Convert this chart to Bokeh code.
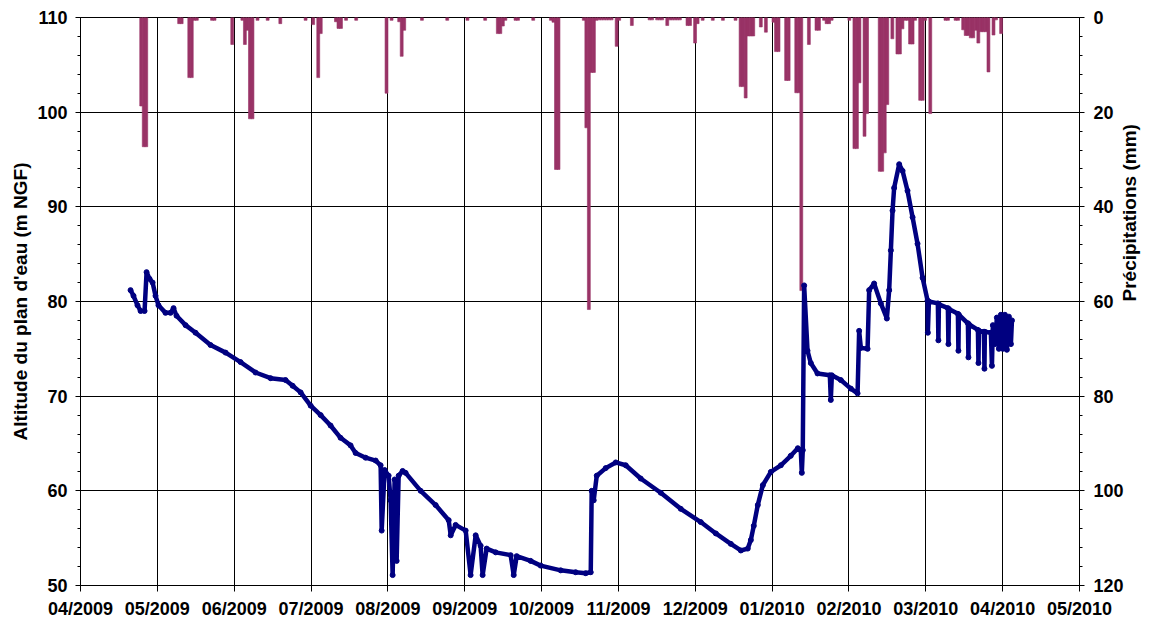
import math
import pandas as pd
from bokeh.plotting import figure
from bokeh.models import Range1d, LinearAxis, FixedTicker, SingleIntervalTicker
from bokeh.embed import file_html
from bokeh.resources import INLINE

# ---------------- data ----------------
month_labels = ["04/2009", "05/2009", "06/2009", "07/2009", "08/2009", "09/2009", "10/2009",
                "11/2009", "12/2009", "01/2010", "02/2010", "03/2010", "04/2010", "05/2010"]

precip_dates = [
    "2009-04-25", "2009-04-26", "2009-04-27", "2009-05-10", "2009-05-11", "2009-05-14", "2009-05-15",
    "2009-05-16", "2009-05-17", "2009-05-23", "2009-05-24", "2009-05-31", "2009-06-04", "2009-06-05",
    "2009-06-06", "2009-06-07", "2009-06-08", "2009-06-10", "2009-06-14", "2009-06-19", "2009-06-29",
    "2009-07-02", "2009-07-04", "2009-07-05", "2009-07-11", "2009-07-12", "2009-07-13", "2009-07-15",
    "2009-07-19", "2009-07-31", "2009-08-02", "2009-08-05", "2009-08-06", "2009-08-07", "2009-08-14",
    "2009-08-24", "2009-09-01", "2009-09-08", "2009-09-13", "2009-09-14", "2009-09-15", "2009-09-16",
    "2009-09-20", "2009-09-21", "2009-09-27", "2009-10-04", "2009-10-05", "2009-10-06", "2009-10-07",
    "2009-10-17", "2009-10-18", "2009-10-19", "2009-10-20", "2009-10-21", "2009-10-22", "2009-10-23",
    "2009-10-24", "2009-10-25", "2009-10-26", "2009-10-27", "2009-10-28", "2009-10-30", "2009-10-31",
    "2009-11-05", "2009-11-12", "2009-11-13", "2009-11-15", "2009-11-16", "2009-11-17", "2009-11-19",
    "2009-11-20", "2009-11-21", "2009-11-22", "2009-11-23", "2009-11-24", "2009-11-27", "2009-11-28",
    "2009-11-30", "2009-12-01", "2009-12-03", "2009-12-07", "2009-12-11", "2009-12-16", "2009-12-18",
    "2009-12-19", "2009-12-20", "2009-12-21", "2009-12-22", "2009-12-23", "2009-12-26", "2009-12-28",
    "2009-12-31", "2010-01-01", "2010-01-02", "2010-01-05", "2010-01-06", "2010-01-09", "2010-01-10",
    "2010-01-11", "2010-01-14", "2010-01-17", "2010-01-18", "2010-01-20", "2010-01-21", "2010-01-22",
    "2010-01-23", "2010-01-30", "2010-02-01", "2010-02-02", "2010-02-03", "2010-02-05", "2010-02-06",
    "2010-02-11", "2010-02-12", "2010-02-13", "2010-02-14", "2010-02-16", "2010-02-18", "2010-02-19",
    "2010-02-20", "2010-02-21", "2010-02-22", "2010-02-23", "2010-02-24", "2010-02-25", "2010-02-27",
    "2010-02-28", "2010-03-01", "2010-03-03", "2010-03-09", "2010-03-10", "2010-03-13", "2010-03-14",
    "2010-03-16", "2010-03-17", "2010-03-18", "2010-03-19", "2010-03-20", "2010-03-21", "2010-03-22",
    "2010-03-23", "2010-03-24", "2010-03-25", "2010-03-26", "2010-03-28", "2010-03-29", "2010-03-31",
]
precip_mm = [
    18.7, 27.3, 27.3, 1.3, 1.3, 12.7, 12.7,
    0.6, 0.6, 0.6, 0.6, 5.7, 0.6, 5.7,
    2.7, 21.4, 21.4, 0.6, 0.6, 1.3, 0.6,
    1.5, 12.7, 3.4, 0.9, 2.3, 2.3, 0.6,
    0.6, 16.0, 0.6, 0.9, 8.2, 2.7, 0.6,
    0.6, 0.6, 0.6, 3.4, 3.4, 1.8, 0.6,
    0.6, 0.6, 0.6, 0.6, 1.0, 32.1, 32.1,
    0.6, 23.3, 61.7, 11.6, 11.6, 0.6, 0.5,
    0.5, 0.5, 0.5, 0.5, 0.5, 6.1, 0.6,
    1.7, 0.5, 0.5, 0.5, 0.5, 0.5, 1.7,
    0.5, 0.5, 0.5, 0.5, 0.5, 1.7, 1.7,
    5.4, 1.3, 0.6, 0.6, 0.6, 0.6, 14.6,
    14.6, 17.0, 3.9, 3.9, 3.9, 2.0, 3.1,
    1.0, 7.2, 7.2, 13.3, 13.3, 15.9, 15.9,
    57.7, 5.7, 2.7, 2.7, 0.6, 1.3, 1.3,
    0.6, 0.6, 27.7, 27.7, 13.8, 25.1, 20.3,
    32.5, 32.5, 28.6, 18.4, 4.5, 7.7, 7.7,
    2.4, 0.6, 0.6, 5.6, 5.6, 0.6, 17.5,
    17.5, 0.6, 20.3, 0.6, 0.6, 0.6, 0.6,
    2.6, 3.8, 3.8, 4.3, 4.3, 2.7, 5.4,
    3.0, 3.0, 3.0, 11.5, 3.7, 0.5, 3.4,
]

level_times = [
    "2009-04-20 19:00", "2009-04-21 23:00", "2009-04-23 13:00", "2009-04-24 18:00", "2009-04-26 08:00",
    "2009-04-27 03:00", "2009-04-28 07:00", "2009-04-29 12:00", "2009-04-30 16:00", "2009-05-01 20:00",
    "2009-05-04 15:00", "2009-05-06 14:00", "2009-05-07 19:00", "2009-05-08 23:00", "2009-05-12 13:00",
    "2009-05-16 12:00", "2009-05-22 10:00", "2009-05-28 09:00", "2009-06-03 07:00", "2009-06-09 05:00",
    "2009-06-15 04:00", "2009-06-21 02:00", "2009-06-23 21:00", "2009-06-27 01:00", "2009-07-01 00:00",
    "2009-07-04 23:00", "2009-07-08 21:00", "2009-07-12 20:00", "2009-07-16 19:00", "2009-07-18 19:00",
    "2009-07-22 18:00", "2009-07-26 17:00", "2009-07-28 16:00", "2009-07-29 02:00", "2009-07-30 06:00",
    "2009-07-31 20:00", "2009-08-01 15:00", "2009-08-02 10:00", "2009-08-03 05:00", "2009-08-04 00:00",
    "2009-08-04 19:00", "2009-08-06 09:00", "2009-08-07 13:00", "2009-08-13 12:00", "2009-08-19 10:00",
    "2009-08-24 14:00", "2009-08-25 09:00", "2009-08-27 08:00", "2009-08-31 07:00", "2009-09-02 06:00",
    "2009-09-04 06:00", "2009-09-06 05:00", "2009-09-07 00:00", "2009-09-08 14:00", "2009-09-12 04:00",
    "2009-09-18 02:00", "2009-09-19 07:00", "2009-09-20 11:00", "2009-09-26 00:00", "2009-09-29 23:00",
    "2009-10-07 21:00", "2009-10-13 19:00", "2009-10-17 18:00", "2009-10-19 18:00", "2009-10-20 03:00",
    "2009-10-20 22:00", "2009-10-22 03:00", "2009-10-25 16:00", "2009-10-29 15:00", "2009-11-02 14:00",
    "2009-11-08 12:00", "2009-11-16 10:00", "2009-11-24 08:00", "2009-12-02 06:00", "2009-12-08 05:00",
    "2009-12-14 03:00", "2009-12-18 02:00", "2009-12-20 20:00", "2009-12-22 01:00", "2009-12-23 05:00",
    "2009-12-24 19:00", "2009-12-26 19:00", "2009-12-29 23:00", "2010-01-02 22:00", "2010-01-06 20:00",
    "2010-01-09 15:00", "2010-01-10 19:00", "2010-01-11 05:00", "2010-01-11 14:00", "2010-01-12 03:00",
    "2010-01-13 11:00", "2010-01-14 18:00", "2010-01-17 10:00", "2010-01-22 07:00", "2010-01-22 16:00",
    "2010-01-23 02:00", "2010-01-26 15:00", "2010-01-30 14:00", "2010-02-02 06:00", "2010-02-02 21:00",
    "2010-02-03 13:00", "2010-02-06 05:00", "2010-02-06 20:00", "2010-02-08 19:00", "2010-02-11 11:00",
    "2010-02-13 20:00", "2010-02-14 18:00", "2010-02-15 10:00", "2010-02-16 02:00", "2010-02-16 17:00",
    "2010-02-18 17:00", "2010-02-20 01:00", "2010-02-22 00:00", "2010-02-24 00:00", "2010-02-25 23:00",
    "2010-02-27 23:00", "2010-03-01 22:00", "2010-03-02 01:00", "2010-03-02 11:00", "2010-03-06 00:00",
    "2010-03-06 05:00", "2010-03-06 10:00", "2010-03-09 23:00", "2010-03-10 04:00", "2010-03-10 09:00",
    "2010-03-13 22:00", "2010-03-14 03:00", "2010-03-14 07:00", "2010-03-17 21:00", "2010-03-18 02:00",
    "2010-03-18 06:00", "2010-03-21 20:00", "2010-03-22 01:00", "2010-03-22 06:00", "2010-03-24 05:00",
    "2010-03-24 10:00", "2010-03-24 14:00", "2010-03-26 23:00", "2010-03-27 09:00", "2010-03-27 18:00",
    "2010-03-28 13:00", "2010-03-29 08:00", "2010-03-30 03:00", "2010-03-30 22:00", "2010-03-31 17:00",
    "2010-04-01 12:00", "2010-04-02 07:00", "2010-04-03 02:00", "2010-04-03 21:00", "2010-04-04 07:00",
]
level_m = [
    81.2, 80.6, 79.6, 79.0, 79.0,
    83.1, 82.4, 82.0, 80.6, 79.6,
    78.8, 78.8, 79.3, 78.5, 77.5,
    76.7, 75.4, 74.6, 73.6, 72.5,
    71.9, 71.7, 71.1, 70.4, 69.0,
    68.0, 66.9, 65.6, 64.8, 64.0,
    63.5, 63.2, 62.7, 55.8, 62.2,
    61.6, 59.0, 51.1, 61.2, 52.6,
    61.6, 62.1, 61.9, 60.0, 58.5,
    56.9, 55.3, 56.4, 55.8, 51.1,
    55.3, 54.2, 51.1, 53.9, 53.5,
    53.2, 51.1, 53.1, 52.6, 52.1,
    51.6, 51.4, 51.3, 51.4, 60.0,
    59.0, 61.6, 62.4, 63.0, 62.7,
    61.3, 59.8, 58.1, 56.7, 55.5,
    54.4, 53.7, 53.9, 54.8, 56.3,
    58.5, 60.6, 62.0, 62.7, 63.7,
    64.5, 64.3, 61.9, 64.3, 81.7,
    74.8, 73.5, 72.4, 72.2, 69.6,
    72.2, 71.7, 70.8, 70.3, 76.9,
    75.1, 75.0, 81.2, 81.9, 79.8,
    78.2, 81.2, 85.4, 89.6, 92.0,
    94.5, 93.8, 91.7, 88.9, 86.1,
    82.5, 80.1, 76.7, 80.0, 79.8,
    75.9, 79.7, 79.3, 75.5, 79.2,
    78.7, 74.8, 78.6, 77.7, 74.1,
    77.6, 77.0, 73.5, 76.9, 76.8,
    72.9, 76.8, 76.7, 73.2, 77.5,
    75.5, 78.3, 75.0, 78.6, 75.0,
    78.6, 74.9, 78.4, 75.5, 78.0,
]

# ---------------- figure ----------------
FONT = "Liberation Sans"
x_start = pd.Timestamp("2009-04-01")
x_end = pd.Timestamp("2010-05-01")
start_ms = x_start.value // 10**6
end_ms = x_end.value // 10**6
n = len(month_labels) - 1
tick_ms = [int(round(start_ms + k * (end_ms - start_ms) / n)) for k in range(n + 1)]

p = figure(frame_width=999, frame_height=568, x_axis_type="datetime",
           x_range=Range1d(start=start_ms, end=end_ms), y_range=Range1d(start=50, end=110),
           output_backend="svg", toolbar_location=None)
p.min_border_left = 80
p.min_border_right = 74
p.min_border_top = 17
p.min_border_bottom = 36
p.outline_line_color = "black"
p.outline_line_alpha = 1
p.background_fill_color = "white"
p.border_fill_color = "white"

p.extra_y_ranges = {"precip": Range1d(start=120, end=0)}

# x axis
xa = p.xaxis[0]
xa.ticker = FixedTicker(ticks=tick_ms)
xa.major_label_overrides = {t: lab for t, lab in zip(tick_ms, month_labels)}
xa.minor_tick_line_color = None

# left axis
ya = p.yaxis[0]
ya.ticker = SingleIntervalTicker(interval=10, num_minor_ticks=5)
ya.axis_label = "Altitude du plan d'eau (m NGF)"

# right axis
ra = LinearAxis(y_range_name="precip", ticker=SingleIntervalTicker(interval=20, num_minor_ticks=5),
                axis_label="Précipitations (mm)")
ra.axis_label_orientation = math.pi / 2
p.add_layout(ra, "right")

for ax in (xa, ya, ra):
    ax.axis_line_color = "black"
    ax.axis_line_width = 1
    ax.major_tick_line_color = "black"
    ax.major_tick_out = 5
    ax.major_tick_in = 0
    ax.minor_tick_out = 3
    ax.minor_tick_in = 0
    ax.major_label_text_font = FONT
    ax.major_label_text_font_style = "bold"
    ax.major_label_text_font_size = "18px"
    ax.major_label_text_color = "black"
    ax.axis_label_text_font = FONT
    ax.axis_label_text_font_style = "bold"
    ax.axis_label_text_font_size = "19px"
    ax.axis_label_text_color = "black"
xa.major_tick_out = 6
xa.major_label_standoff = 7
ya.major_label_standoff = 8
ra.major_label_standoff = 9
ya.axis_label_standoff = 3
ra.axis_label_standoff = 3
ya.minor_tick_line_color = "black"
ra.minor_tick_line_color = "black"

p.xgrid.grid_line_color = "black"
p.ygrid.grid_line_color = "black"
p.xgrid.grid_line_width = 1
p.ygrid.grid_line_width = 1

# precipitation bars
p.vbar(x=pd.to_datetime(precip_dates), width=1.15 * 86400000, bottom=0, top=precip_mm,
       y_range_name="precip", fill_color="#993366", line_color="#993366", line_width=0.6)

# water level
lx = pd.to_datetime(level_times)
p.line(x=lx, y=level_m, line_color="#000080", line_width=4.5)
p.scatter(x=lx, y=level_m, marker="circle", size=5, color="#000080")

open("out.html", "w").write(file_html(p, INLINE))
